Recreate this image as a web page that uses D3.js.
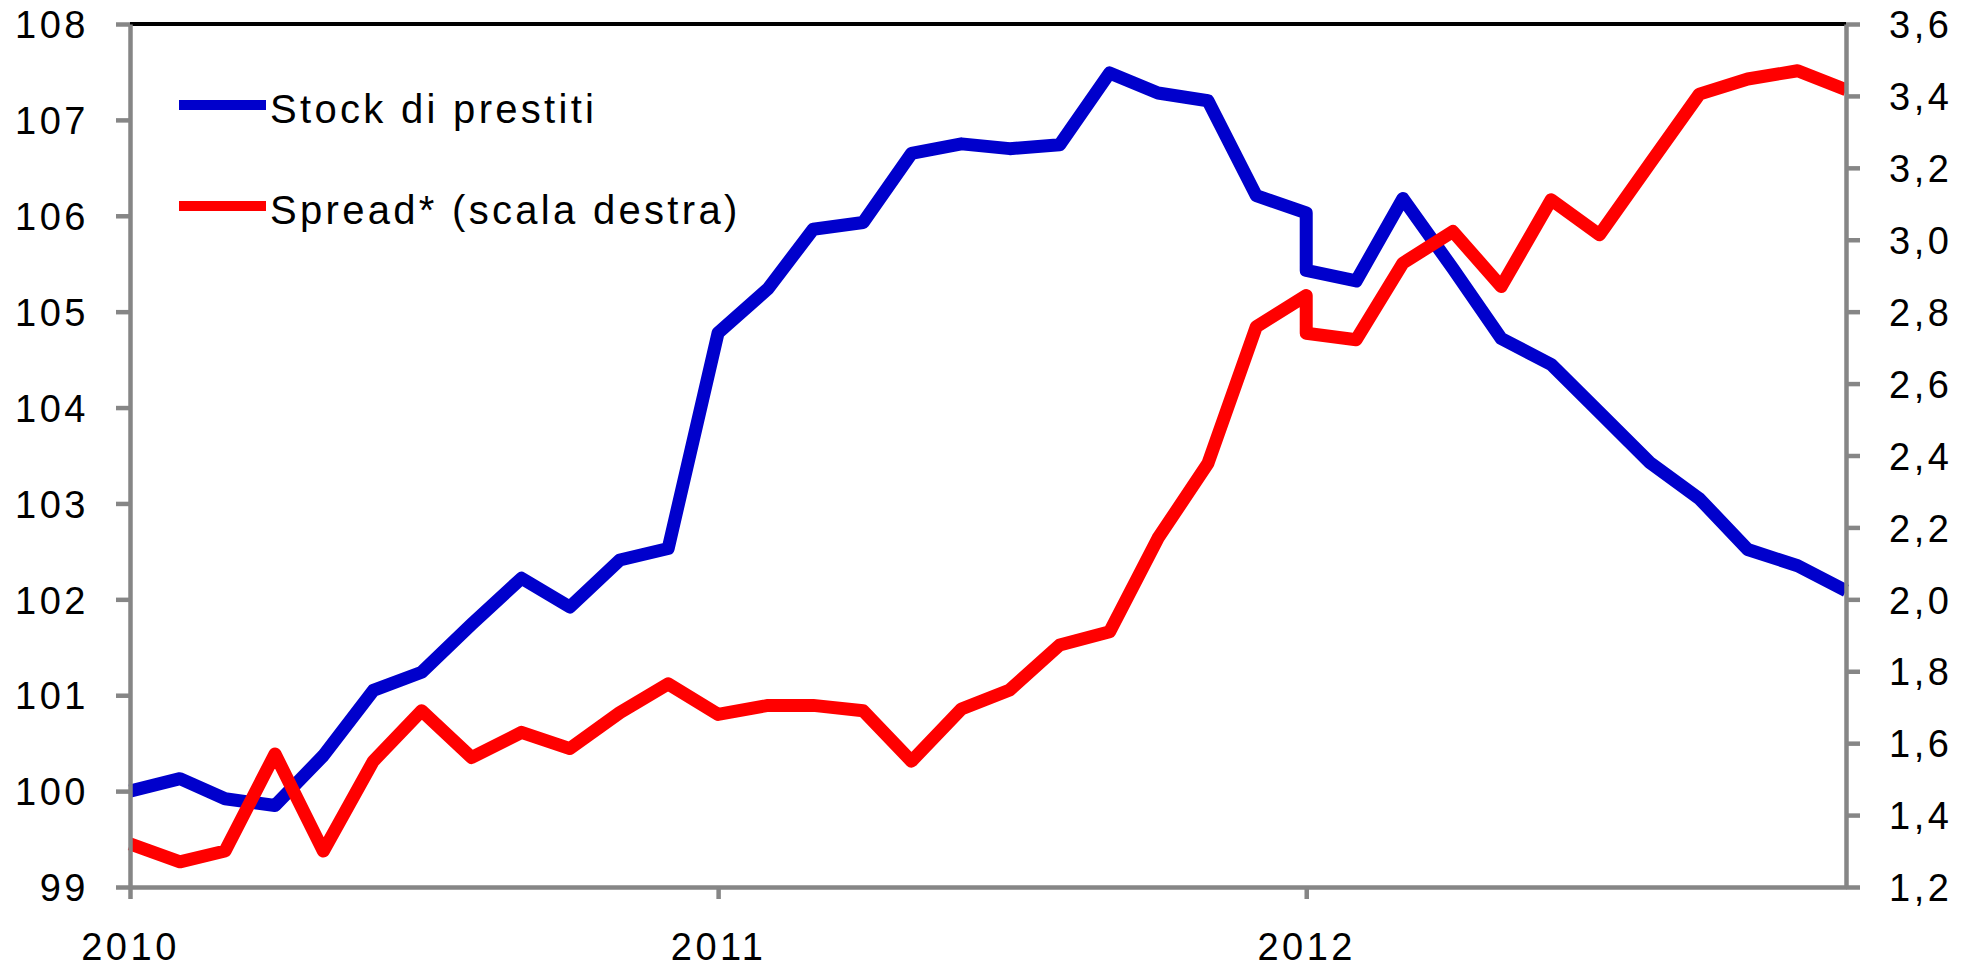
<!DOCTYPE html>
<html>
<head>
<meta charset="utf-8">
<script src="https://cdn.jsdelivr.net/npm/d3@7"></script>
<style>
	body { margin: 0; background: #fff; }
	text { font-family: "Liberation Sans", Arial, sans-serif; fill: #000; }
</style>
</head>
<body>
<div id="chart"></div>
<script>
// mesi (gennaio 2012 compare due volte: discontinuita nella serie)
var mesi = [
	"2010-01", "2010-02", "2010-03", "2010-04", "2010-05", "2010-06",
	"2010-07", "2010-08", "2010-09", "2010-10", "2010-11", "2010-12",
	"2011-01", "2011-02", "2011-03", "2011-04", "2011-05", "2011-06",
	"2011-07", "2011-08", "2011-09", "2011-10", "2011-11", "2011-12",
	"2012-01", "2012-01", "2012-02", "2012-03", "2012-04", "2012-05",
	"2012-06", "2012-07", "2012-08", "2012-09", "2012-10", "2012-11",
	"2012-12"
];

var stockPrestiti = [
	100.0, 100.13, 99.92, 99.85, 100.37, 101.05,
	101.24, 101.74, 102.22, 101.92, 102.41, 102.53,
	104.78, 105.24, 105.86, 105.93, 106.65, 106.75,
	106.70, 106.74, 107.49, 107.28, 107.20, 106.21,
	106.03, 105.43, 105.32, 106.18, 105.45, 104.72,
	104.45, 103.95, 103.43, 103.05, 102.52, 102.35,
	102.09
];

var spread = [
	1.32, 1.27, 1.30, 1.57, 1.30, 1.55,
	1.69, 1.56, 1.63, 1.585, 1.685, 1.765,
	1.68, 1.705, 1.705, 1.69, 1.55, 1.695,
	1.748, 1.873, 1.91, 2.17, 2.378, 2.758,
	2.845, 2.74, 2.722, 2.935, 3.023, 2.87,
	3.111, 3.014, 3.21, 3.405, 3.447, 3.47,
	3.417
];

var anni = ["2010", "2011", "2012"];
var tickSinistra = [99, 100, 101, 102, 103, 104, 105, 106, 107, 108];
var tickDestra = [1.2, 1.4, 1.6, 1.8, 2.0, 2.2, 2.4, 2.6, 2.8, 3.0, 3.2, 3.4, 3.6];

var serie = [
	{ nome: "Stock di prestiti", valori: stockPrestiti, colore: "#0000cc", asse: "sx" },
	{ nome: "Spread* (scala destra)", valori: spread, colore: "#ff0000", asse: "dx" }
];

var svgWidth = 1966;
var svgHeight = 967;

var margin = {
	top: 24,
	bottom: 80,
	right: 120,
	left: 130
};

var width = svgWidth - margin.left - margin.right;
var height = svgHeight - margin.top - margin.bottom;

var svg = d3.select("#chart")
	.append("svg")
	.attr("width", svgWidth)
	.attr("height", svgHeight);

var chartGroup = svg.append("g")
	.attr("transform", `translate(${margin.left}, ${margin.top})`);

var parseMese = d3.timeParse("%Y-%m");
var date = mesi.map(parseMese);

var xScale = d3.scaleTime()
	.domain([parseMese("2010-01"), parseMese("2012-12")])
	.range([0, width]);

var ySx = d3.scaleLinear().domain([99, 108]).range([height, 0]);
var yDx = d3.scaleLinear().domain([1.2, 3.6]).range([height, 0]);

var it = d3.formatLocale({ decimal: ",", thousands: ".", grouping: [3], currency: ["€", ""] });
var fmtDx = it.format(".1f");

// linee
serie.forEach(function(s) {
	var y = s.asse === "sx" ? ySx : yDx;
	var line = d3.line()
		.x((d, i) => xScale(date[i]))
		.y(d => y(d));
	chartGroup.append("path")
		.datum(s.valori)
		.attr("fill", "none")
		.attr("stroke", s.colore)
		.attr("stroke-width", 13)
		.attr("stroke-linejoin", "round")
		.attr("d", line);
});

// bordo superiore
chartGroup.append("line")
	.attr("x1", 0)
	.attr("x2", width)
	.attr("y1", 0)
	.attr("y2", 0)
	.attr("stroke", "#000")
	.attr("stroke-width", 4);

var leftAxis = d3.axisLeft(ySx)
	.tickValues(tickSinistra)
	.tickSize(14)
	.tickSizeOuter(0)
	.tickPadding(27)
	.tickFormat(d3.format("d"));

var rightAxis = d3.axisRight(yDx)
	.tickValues(tickDestra)
	.tickSize(14)
	.tickSizeOuter(0)
	.tickPadding(29)
	.tickFormat(fmtDx);

var bottomAxis = d3.axisBottom(xScale)
	.tickValues(anni.map(a => parseMese(a + "-01")))
	.tickSize(12)
	.tickSizeOuter(0)
	.tickPadding(34)
	.tickFormat(d3.timeFormat("%Y"));

var gx = chartGroup.append("g")
	.attr("transform", `translate(0, ${height})`)
	.call(bottomAxis);

var gl = chartGroup.append("g").call(leftAxis);

var gr = chartGroup.append("g")
	.attr("transform", `translate(${width}, 0)`)
	.call(rightAxis);

[gx, gl, gr].forEach(function(g) {
	g.selectAll("path, line")
		.attr("stroke", "#868686")
		.attr("stroke-width", 4.5);
	g.selectAll("text")
		.style("font-size", "38px")
		.style("letter-spacing", "3.5px")
		.attr("fill", "#000");
});

gl.selectAll("text").attr("dy", "0.36em");
gr.selectAll("text").attr("dy", "0.36em");

// legenda
var legend = svg.append("g");
serie.forEach(function(s, i) {
	var yl = 105 + i * 101;
	legend.append("line")
		.attr("x1", 179)
		.attr("x2", 266)
		.attr("y1", yl)
		.attr("y2", yl)
		.attr("stroke", s.colore)
		.attr("stroke-width", 10);
	legend.append("text")
		.attr("x", 270)
		.attr("y", yl + 17.5)
		.style("font-size", "40px")
		.style("letter-spacing", "3.3px")
		.text(s.nome);
});
</script>
</body>
</html>
